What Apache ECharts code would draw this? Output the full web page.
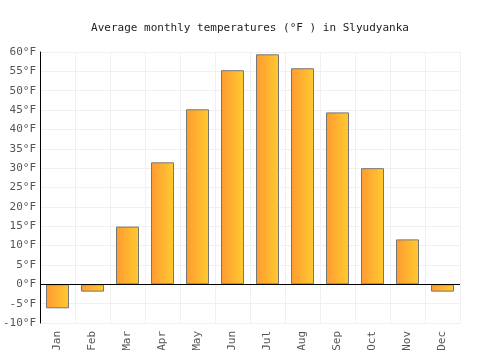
<!DOCTYPE html>
<html>
<head>
<meta charset="utf-8">
<script src="https://cdn.jsdelivr.net/npm/echarts@6/dist/echarts.min.js"></script>
<style>
  html, body { margin: 0; padding: 0; background: #fff; }
  #chart { width: 500px; height: 350px; }
</style>
</head>
<body>
<div id="chart"></div>
<script>
// data
const months = ['Jan', 'Feb', 'Mar', 'Apr', 'May', 'Jun', 'Jul', 'Aug', 'Sep', 'Oct', 'Nov', 'Dec'];
const tempsF = [-6.2, -1.9, 14.9, 31.5, 45.2, 55.3, 59.4, 55.8, 44.4, 30, 11.6, -1.9];

const font = '"DejaVu Sans Mono", monospace';
const myChart = echarts.init(document.getElementById('chart'));

const option = {
  animation: false,
  title: {
    text: 'Average monthly temperatures (°F ) in Slyudyanka',
    left: 'center',
    top: 18,
    textStyle: { fontFamily: font, fontSize: 11, fontWeight: 'normal', color: '#222' }
  },
  grid: { left: 40, right: 40, top: 52, bottom: 27, containLabel: false, outerBoundsMode: 'none' },
  xAxis: {
    type: 'category',
    data: months,
    axisLine: { show: false },
    axisTick: { show: false },
    splitLine: { show: true, lineStyle: { color: '#f0f0f0' } },
    axisLabel: { rotate: 90, margin: 8, fontFamily: font, fontSize: 11, color: '#555' }
  },
  yAxis: {
    type: 'value',
    min: -10,
    max: 60,
    interval: 5,
    axisLine: { show: true, lineStyle: { color: '#000' } },
    axisTick: { show: false },
    splitLine: { show: true, lineStyle: { color: '#f0f0f0' } },
    axisLabel: { formatter: '{value}°F', margin: 4, fontFamily: font, fontSize: 11, color: '#555' }
  },
  series: [{
    type: 'bar',
    data: tempsF,
    barWidth: 23,
    itemStyle: {
      color: new echarts.graphic.LinearGradient(0, 0, 1, 0, [
        { offset: 0, color: '#ff9a30' },
        { offset: 1, color: '#ffcb30' }
      ]),
      borderColor: '#777',
      borderWidth: 1
    },
    markLine: {
      silent: true,
      symbol: 'none',
      label: { show: false },
      lineStyle: { color: '#000', type: 'solid', width: 1 },
      data: [{ yAxis: 0 }]
    }
  }]
};

myChart.setOption(option);
</script>
</body>
</html>
